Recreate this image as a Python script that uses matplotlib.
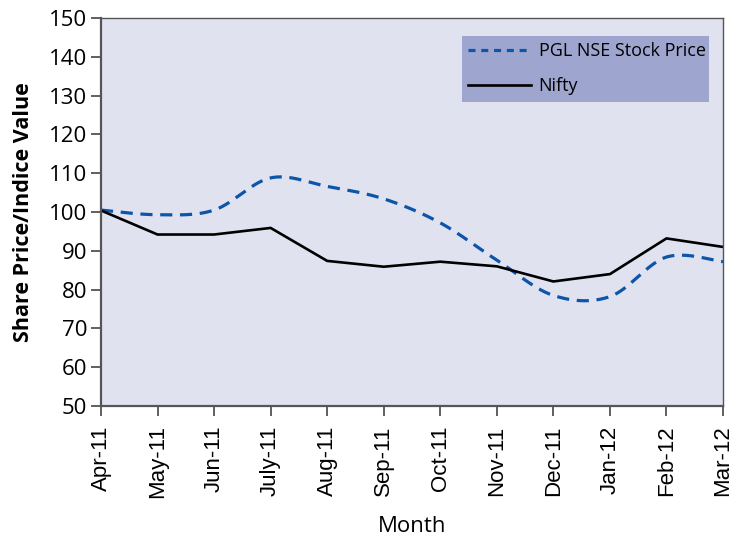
import numpy as np
import matplotlib
matplotlib.use("Agg")
import matplotlib.pyplot as plt
from matplotlib.lines import Line2D

months = ["Apr-11", "May-11", "Jun-11", "July-11", "Aug-11", "Sep-11",
          "Oct-11", "Nov-11", "Dec-11", "Jan-12", "Feb-12", "Mar-12"]
pgl = [100.5, 99.3, 100.5, 108.8, 106.6, 103.4, 97.2, 87.6, 78.5, 78.2, 88.4, 87.2]
nifty = [100.4, 94.2, 94.2, 95.9, 87.4, 85.9, 87.2, 86.0, 82.1, 84.0, 93.2, 91.0]
yticks = list(range(50, 151, 10))


def smooth(xs, ys, n=30):
    xs = np.asarray(xs, float)
    ys = np.asarray(ys, float)
    px = np.concatenate([[xs[0]], xs, [xs[-1]]])
    py = np.concatenate([[ys[0]], ys, [ys[-1]]])
    outx, outy = [], []
    t = np.linspace(0, 1, n)
    for i in range(1, len(px) - 2):
        p0 = np.array([px[i], py[i]])
        p3 = np.array([px[i + 1], py[i + 1]])
        c1 = p0 + (np.array([px[i + 1], py[i + 1]]) - np.array([px[i - 1], py[i - 1]])) / 6
        c2 = p3 - (np.array([px[i + 2], py[i + 2]]) - np.array([px[i], py[i]])) / 6
        b = ((1 - t) ** 3)[:, None] * p0 + (3 * (1 - t) ** 2 * t)[:, None] * c1 + \
            (3 * (1 - t) * t ** 2)[:, None] * c2 + (t ** 3)[:, None] * p3
        outx.extend(b[:, 0])
        outy.extend(b[:, 1])
    return np.array(outx), np.array(outy)


fig = plt.figure(figsize=(7.35, 5.36), dpi=100)
ax = fig.add_axes([0.1374, 0.2425, 0.8463, 0.7239])
ax.set_facecolor("#e0e2f0")

x = np.arange(len(months))
sx, sy = smooth(x, pgl)
blue = "#0d55a8"
ax.plot(sx, sy, color=blue, lw=2.3, dashes=(3.8, 2.4))
ax.plot(x, nifty, color="black", lw=1.9)

ax.set_xlim(0, len(months) - 1)
ax.set_ylim(50, 150)
ax.set_yticks(yticks)
ax.set_yticklabels([str(v) for v in yticks], fontsize=16, family="Open Sans")
ax.set_xticks(x)
ax.set_xticklabels(months, rotation=90, fontsize=16, family="Liberation Sans")
ax.tick_params(axis="both", direction="out", length=7, width=1.2, color="#444444", pad=3)
ax.tick_params(axis="x", pad=7)

for s in ["left", "bottom"]:
    ax.spines[s].set_color("#555555")
    ax.spines[s].set_linewidth(1.6)
for s in ["top", "right"]:
    ax.spines[s].set_color("#555555")
    ax.spines[s].set_linewidth(1.0)

ax.set_ylabel("Share Price/Indice Value", fontsize=15.5, fontweight="bold", family="Open Sans", labelpad=11)
ax.set_xlabel("Month", fontsize=16, family="Open Sans", labelpad=12.5)

handles = [Line2D([], [], color=blue, lw=2.3, dashes=(2.2, 1.8)),
           Line2D([], [], color="black", lw=1.9)]
leg = ax.legend(handles, ["PGL NSE Stock Price", "Nifty"], loc="upper left",
                bbox_to_anchor=(0.58, 0.781, 0.397, 0.173), mode="expand",
                frameon=True, fancybox=False, facecolor="#9ea6d0", edgecolor="none",
                framealpha=1, prop={"family": "Open Sans", "size": 13},
                handlelength=3.5, labelspacing=0.95, borderpad=0.35, handletextpad=0.4,
                borderaxespad=0)

fig.savefig("out.png", dpi=100)
